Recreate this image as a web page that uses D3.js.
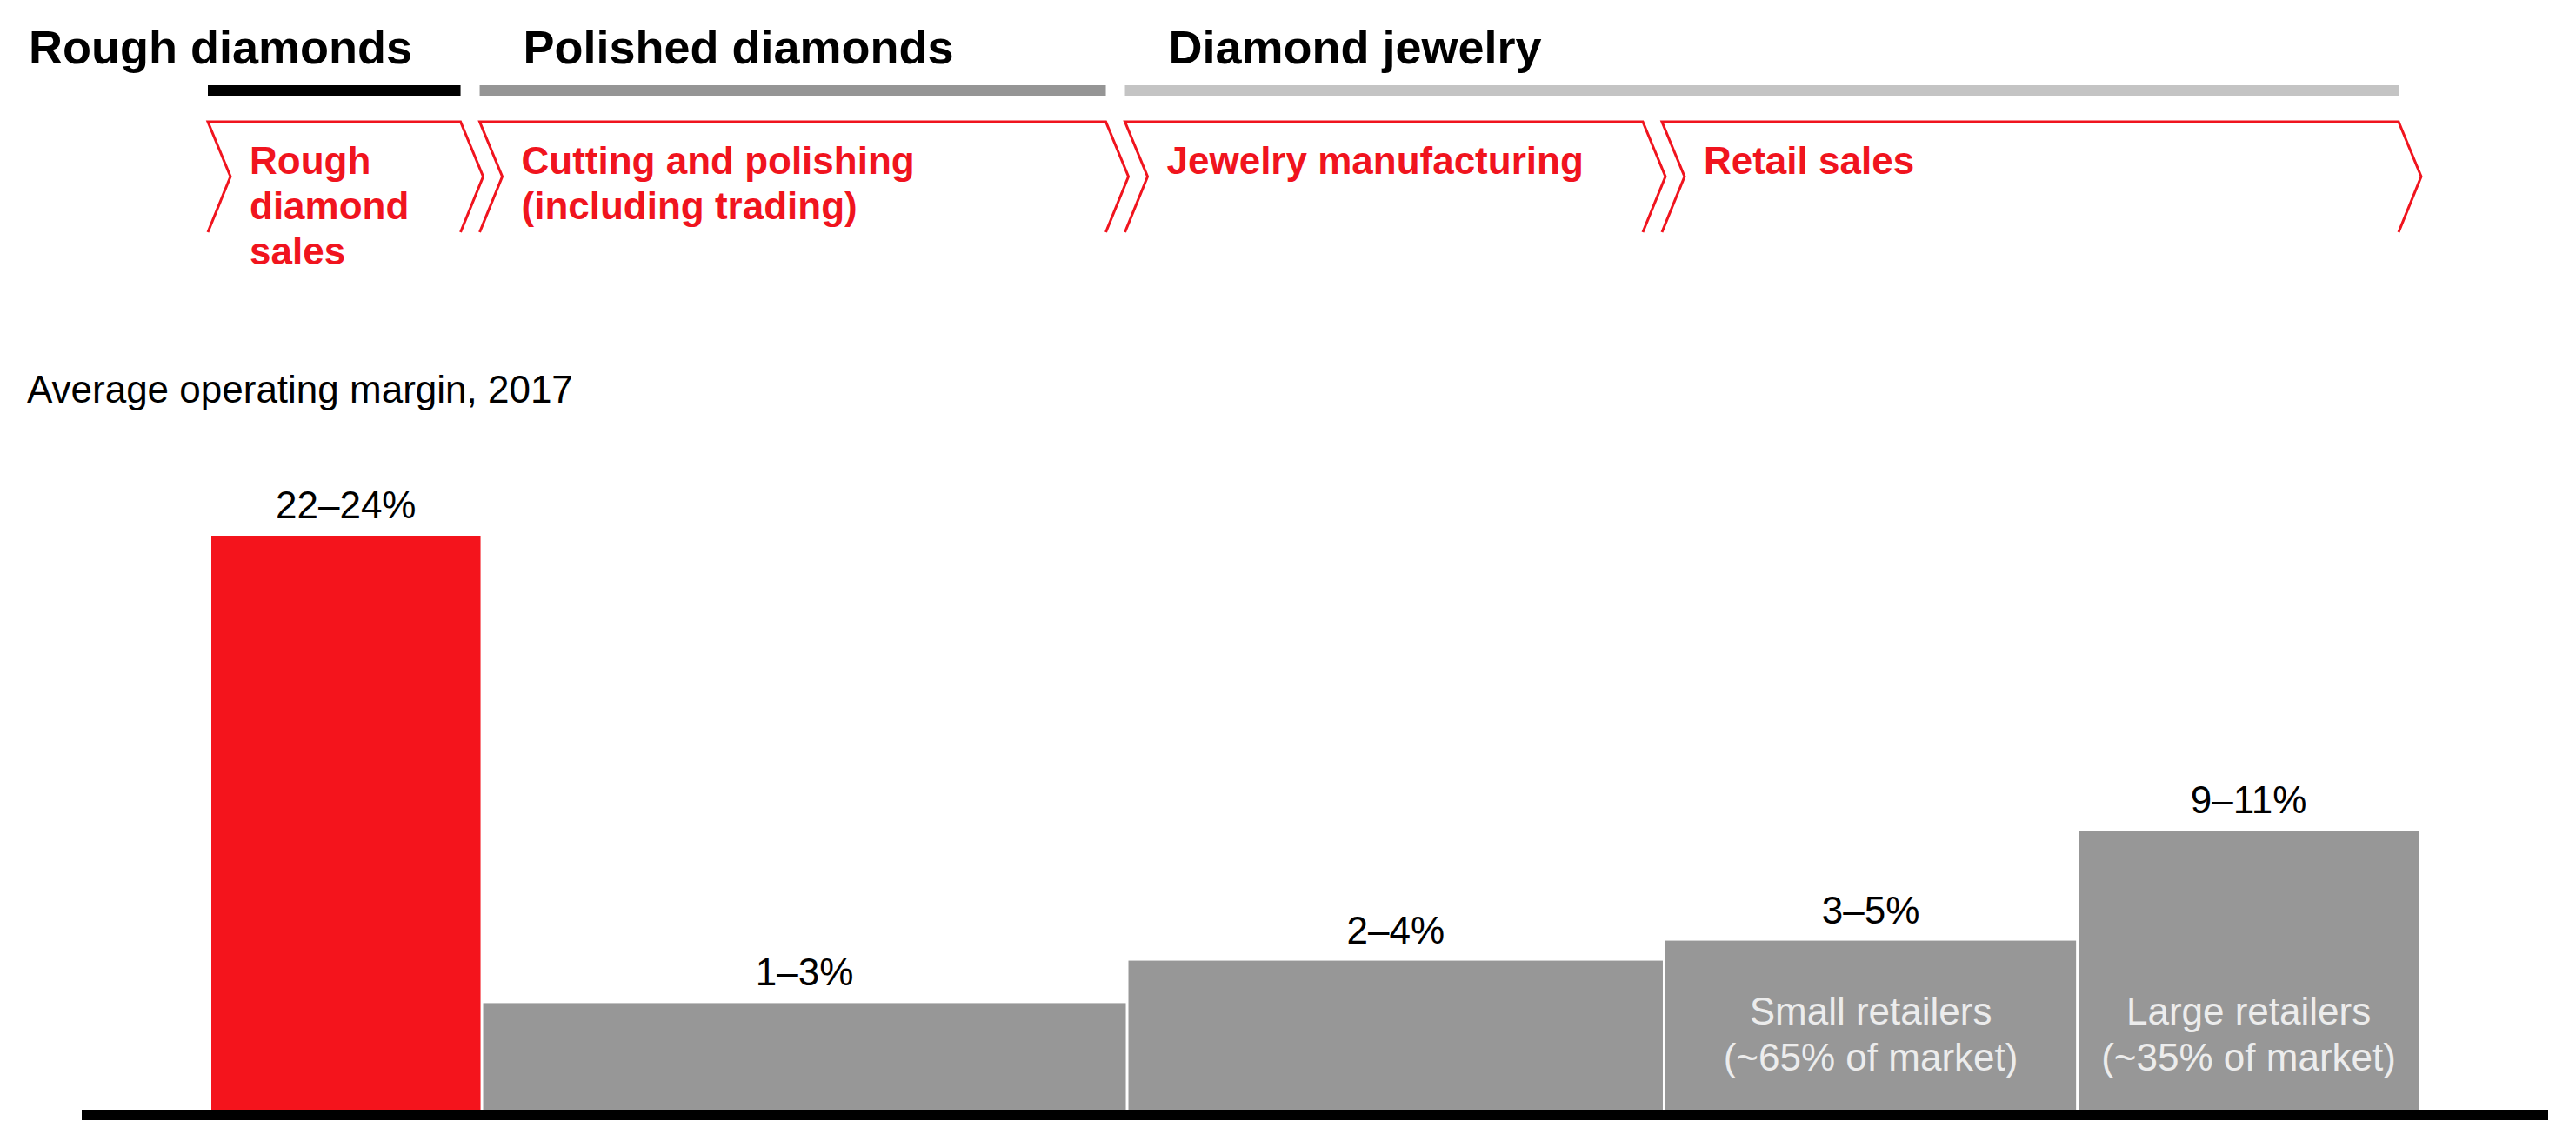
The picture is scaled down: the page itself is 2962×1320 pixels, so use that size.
<!DOCTYPE html>
<html>
<head>
<meta charset="utf-8">
<script src="https://cdn.jsdelivr.net/npm/d3@7"></script>
<style>
  html, body { margin: 0; padding: 0; background: #ffffff; }
  svg { display: block; }
  text { font-family: "Liberation Sans", Arial, Helvetica, sans-serif; }
</style>
</head>
<body>
<svg id="chart" width="2962" height="1320"></svg>
<script>
// ---------- DATA ----------
const columns = ["Rough diamond sales", "Cutting and polishing", "Jewelry manufacturing", "Small retailers", "Large retailers"];
const marginLabels = ["22–24%", "1–3%", "2–4%", "3–5%", "9–11%"];
// bar heights as drawn in the picture (stylised, in margin-% units)
const barValues = [23, 4.3, 6.0, 6.8, 11.2];
// relative column widths as drawn (share of chart width, %)
const columnShare = [12.3, 29.2, 24.3, 18.7, 15.5];
const innerLabels = [null, null, null, ["Small retailers", "(~65% of market)"], ["Large retailers", "(~35% of market)"]];

const stageNames = [["Rough", "diamond", "sales"], ["Cutting and polishing", "(including trading)"], ["Jewelry manufacturing"], ["Retail sales"]];
const stageColumns = [[0, 0], [1, 1], [2, 2], [3, 4]];

const productNames = ["Rough diamonds", "Polished diamonds", "Diamond jewelry"];
const productStages = [[0, 0], [1, 1], [2, 3]];

const subtitle = "Average operating margin, 2017";

// ---------- STYLE ----------
const RED = "#F0141E";
const BAR_RED = "#F4141C";
const BAR_GRAY = "#979797";
const productColors = ["#000000", "#959595", "#C4C4C4"];

// ---------- SCALES ----------
const svg = d3.select("#chart");
const edges = [0];
columnShare.forEach(w => edges.push(edges[edges.length - 1] + w));
const x = d3.scaleLinear().domain([0, edges[edges.length - 1]]).range([241.5, 2782.5]);
const y = d3.scaleLinear().domain([0, 23]).range([1277, 616]);

// chevron geometry derived from columns
const chevTop = 140, chevBot = 267, chevMid = 203, depth = 26;
const stages = stageColumns.map(([a, b], i) => ({
  left: x(edges[a]) - 2.5,
  right: x(edges[b + 1]) - 24.5,
  lines: stageNames[i]
}));

// ---------- PRODUCT HEADERS ----------
productStages.forEach(([a, b], i) => {
  const l = stages[a].left, r = stages[b].right;
  svg.append("rect").attr("x", l).attr("y", 98).attr("width", r - l).attr("height", 12)
    .attr("fill", productColors[i]);
  svg.append("text")
    .attr("x", i === 0 ? 33 : l + 50).attr("y", 73)
    .attr("font-size", 54).attr("font-weight", "bold").attr("fill", "#000")
    .text(productNames[i]);
});

// ---------- CHEVRONS (open at the bottom) ----------
stages.forEach(s => {
  const pts = [
    [s.right, chevBot], [s.right + depth, chevMid], [s.right, chevTop],
    [s.left, chevTop], [s.left + depth, chevMid], [s.left, chevBot]
  ];
  svg.append("path")
    .attr("d", "M" + pts.map(p => p.join(",")).join("L"))
    .attr("fill", "none").attr("stroke", RED).attr("stroke-width", 3)
    .attr("stroke-linejoin", "miter");
  const t = svg.append("text").attr("font-size", 44).attr("font-weight", "bold").attr("fill", RED);
  s.lines.forEach((ln, k) => {
    t.append("tspan").attr("x", s.left + 48).attr("y", 200 + k * 52).text(ln);
  });
});

// ---------- SUBTITLE ----------
svg.append("text").attr("x", 31).attr("y", 463).attr("font-size", 44).attr("fill", "#000").text(subtitle);

// ---------- BARS ----------
const bars = columns.map((c, i) => ({ name: c, v: barValues[i], x0: edges[i], x1: edges[i + 1], label: marginLabels[i], inner: innerLabels[i] }));

svg.selectAll("rect.bar").data(bars).enter().append("rect")
  .attr("class", "bar")
  .attr("x", d => x(d.x0) + 1.5)
  .attr("width", d => x(d.x1) - x(d.x0) - 3)
  .attr("y", d => y(d.v))
  .attr("height", d => y(0) + 4 - y(d.v))
  .attr("fill", (d, i) => i === 0 ? BAR_RED : BAR_GRAY);

svg.selectAll("text.val").data(bars).enter().append("text")
  .attr("class", "val")
  .attr("x", d => (x(d.x0) + x(d.x1)) / 2)
  .attr("y", d => y(d.v) - 20)
  .attr("text-anchor", "middle").attr("font-size", 44).attr("fill", "#000")
  .text(d => d.label);

bars.forEach(d => {
  if (!d.inner) return;
  const t = svg.append("text").attr("text-anchor", "middle").attr("font-size", 44).attr("fill", "#ECECEC");
  d.inner.forEach((ln, k) => {
    t.append("tspan").attr("x", (x(d.x0) + x(d.x1)) / 2).attr("y", 1178 + k * 53).text(ln);
  });
});

// ---------- BASELINE ----------
svg.append("line").attr("x1", 94).attr("x2", 2930).attr("y1", y(0) + 5).attr("y2", y(0) + 5)
  .attr("stroke", "#000").attr("stroke-width", 12);
</script>
</body>
</html>
